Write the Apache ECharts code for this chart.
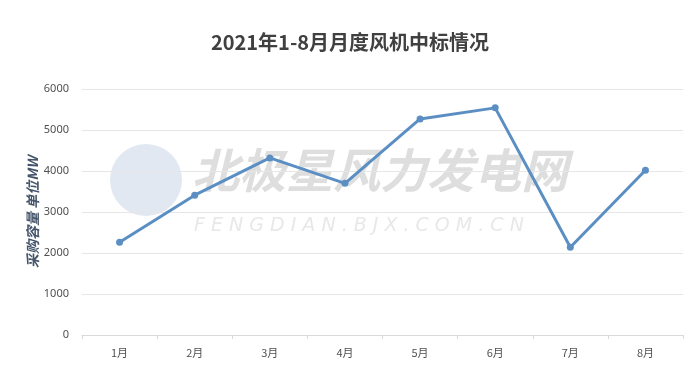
<!DOCTYPE html>
<html><head><meta charset="utf-8">
<script src="https://cdn.jsdelivr.net/npm/echarts@6/dist/echarts.min.js"></script>
<style>html,body{margin:0;padding:0;background:#fff}#c{width:700px;height:366px}</style>
</head><body><div id="c"></div>
<script>
const categories = ['1月','2月','3月','4月','5月','6月','7月','8月'];
const values = [2260, 3410, 4320, 3700, 5270, 5540, 2140, 4020];
const yTicks = {min: 0, max: 6000, interval: 1000};
const titleText = '2021年1-8月月度风机中标情况';
const yName = '采购容量 单位MW';

const chart = echarts.init(document.getElementById('c'), null, {renderer: 'canvas'});
chart.setOption({
  backgroundColor: '#ffffff',
  animation: false,
  title: {
    text: titleText, left: 'center', top: 27,
    textStyle: {fontFamily: 'Noto Sans CJK SC', fontSize: 20, fontWeight: 'bold', color: '#404040'}
  },
  graphic: [
    {type: 'circle', shape: {cx: 146, cy: 180, r: 36}, style: {fill: '#e1e8f2'}, z: -1},
    {type: 'text', left: 192, top: 147, style: {text: '北极星风力发电网', fontFamily: 'Noto Sans CJK SC', fontSize: 47, fontWeight: 'bold', fontStyle: 'italic', fill: '#dedede'}, z: -1},
    {type: 'text', left: 194, top: 217, style: {text: 'F E N G D I A N . B J X . C O M . C N', fontFamily: 'DejaVu Sans', fontSize: 19, fontStyle: 'italic', fill: '#e8e8e8'}, z: -1}
  ],
  grid: {left: 82, right: 17, top: 89, bottom: 31},
  xAxis: {
    type: 'category', data: categories, boundaryGap: true,
    axisLine: {lineStyle: {color: '#d9d9d9'}},
    axisTick: {show: true, length: 4, lineStyle: {color: '#d9d9d9'}},
    axisLabel: {color: '#505050', fontSize: 11, margin: 12, fontFamily: 'Noto Sans CJK SC'}
  },
  yAxis: {
    type: 'value', min: yTicks.min, max: yTicks.max, interval: yTicks.interval,
    name: yName, nameLocation: 'middle', nameGap: 42, nameMoveOverlap: false,
    nameTextStyle: {fontStyle: 'italic', fontSize: 14, fontWeight: 'bold', color: '#44546a', fontFamily: 'Noto Sans CJK SC'},
    axisLine: {show: false}, axisTick: {show: false},
    splitLine: {lineStyle: {color: '#e6e6e6'}},
    axisLabel: {color: '#505050', fontSize: 11, margin: 13, fontFamily: 'Noto Sans', formatter: v => String(v)}
  },
  series: [{
    type: 'line', data: values,
    symbol: 'circle', symbolSize: 7,
    lineStyle: {color: '#5b8fc4', width: 3},
    itemStyle: {color: '#5b8fc4'}
  }]
});
</script></body></html>
